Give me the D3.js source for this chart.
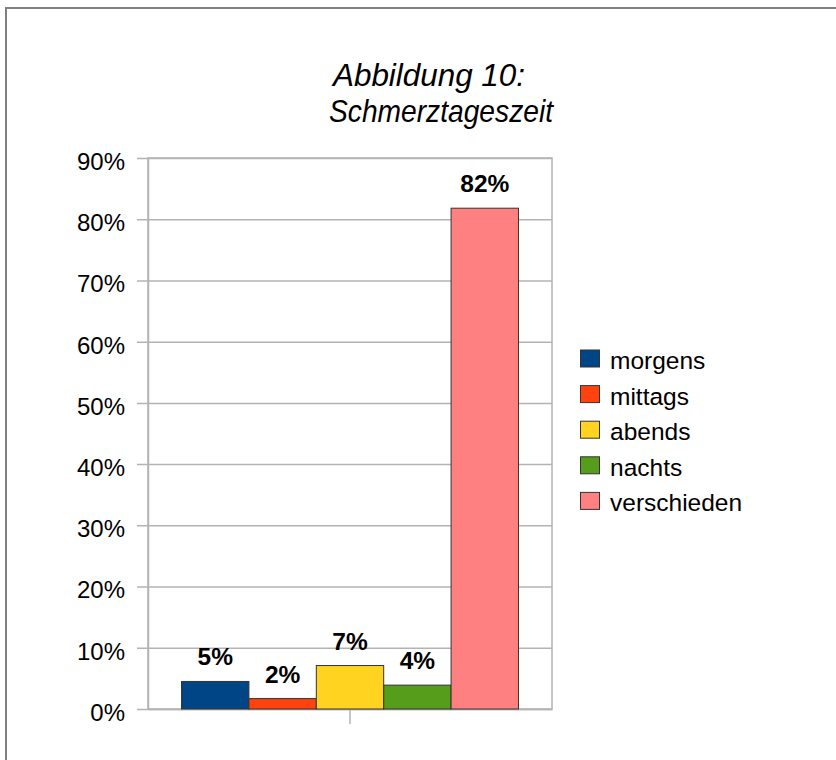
<!DOCTYPE html>
<html>
<head>
<meta charset="utf-8">
<script src="https://cdn.jsdelivr.net/npm/d3@7"></script>
<style>
  html, body { margin: 0; padding: 0; background: #fff; }
  svg { display: block; font-family: "Liberation Sans", Arial, sans-serif; }
</style>
</head>
<body>
<svg id="chart" width="836" height="760"></svg>
<script>
// Abbildung 10 — Schmerztageszeit, one group of five bars
const series = ['morgens', 'mittags', 'abends', 'nachts', 'verschieden'];
const values = [0.045, 0.017, 0.071, 0.039, 0.818];
const valueLabels = ['5%', '2%', '7%', '4%', '82%'];
const colors = ['#004586', '#ff420e', '#ffd320', '#579d1c', '#ff8080'];
const yTicks = [0, 0.1, 0.2, 0.3, 0.4, 0.5, 0.6, 0.7, 0.8, 0.9];
const titleLines = ['Abbildung 10:', 'Schmerztageszeit'];

const svg = d3.select('#chart');
const plot = { left: 148, right: 552, top: 158, bottom: 709 };

// outer frame (right/bottom edges fall outside the picture)
svg.append('rect')
  .attr('x', 6).attr('y', 8).attr('width', 900).attr('height', 900)
  .attr('fill', 'none').attr('stroke', '#808080').attr('stroke-width', 2);

// title font in the source is taller and narrower than Liberation, so squeeze it
const titleBox = [{ x: 333, w: 192 }, { x: 329, w: 224 }];
svg.append('g').selectAll('text')
  .data(titleLines)
  .join('text')
  .attr('x', (d, i) => titleBox[i].x)
  .attr('y', (d, i) => 86 + i * 36)
  .attr('textLength', (d, i) => titleBox[i].w)
  .attr('lengthAdjust', 'spacingAndGlyphs')
  .attr('font-size', 32)
  .attr('font-style', 'italic')
  .attr('fill', '#000')
  .text(d => d);

const y = d3.scaleLinear().domain([0, 0.9]).range([plot.bottom, plot.top]);
const x0 = d3.scaleBand().domain(['']).range([plot.left, plot.right])
  .paddingInner(0.166).paddingOuter(0.083);
const x1 = d3.scaleBand().domain(series).range([0, x0.bandwidth()]);

// plot wall border
svg.append('rect')
  .attr('x', plot.left).attr('y', plot.top)
  .attr('width', plot.right - plot.left).attr('height', plot.bottom - plot.top)
  .attr('fill', 'none').attr('stroke', '#b3b3b3').attr('stroke-width', 1.5);

// y axis with gridlines
const yAxis = svg.append('g')
  .attr('transform', `translate(${plot.left},0)`)
  .call(d3.axisLeft(y).tickValues(yTicks).tickFormat(d3.format('.0%'))
    .tickSizeInner(-(plot.right - plot.left)).tickSizeOuter(0).tickPadding(0));
yAxis.select('.domain').attr('stroke', '#b3b3b3').attr('stroke-width', 1.5);
yAxis.selectAll('.tick line').attr('stroke', '#b3b3b3').attr('stroke-width', 1.5)
  .attr('x1', -11);
yAxis.selectAll('.tick text')
  .attr('x', -23).attr('y', 3).attr('dy', '0.35em')
  .attr('font-size', 24).attr('fill', '#000')
  .attr('font-family', '"Liberation Sans", Arial, sans-serif');

// x axis: single category, tick below
const xAxis = svg.append('g')
  .attr('transform', `translate(0,${plot.bottom})`)
  .call(d3.axisBottom(x0).tickSizeInner(15).tickSizeOuter(0).tickFormat(''));
xAxis.select('.domain').attr('stroke', '#b3b3b3').attr('stroke-width', 1.5);
xAxis.selectAll('.tick line').attr('stroke', '#b3b3b3').attr('stroke-width', 1.5);

const rows = series.map((s, i) => ({ s, v: values[i], label: valueLabels[i], c: colors[i] }));
const g = svg.append('g').attr('transform', `translate(${x0('')},0)`);

g.selectAll('rect')
  .data(rows)
  .join('rect')
  .attr('x', d => x1(d.s))
  .attr('y', d => y(d.v))
  .attr('width', x1.bandwidth())
  .attr('height', d => y(0) - y(d.v))
  .attr('fill', d => d.c)
  .attr('stroke', '#333')
  .attr('stroke-width', 1);

g.selectAll('text')
  .data(rows)
  .join('text')
  .attr('x', d => x1(d.s) + x1.bandwidth() / 2)
  .attr('y', d => y(d.v) - 16)
  .attr('text-anchor', 'middle')
  .attr('font-size', 24.5)
  .attr('font-weight', 'bold')
  .attr('fill', '#000')
  .text(d => d.label);

// legend
const legend = svg.append('g').attr('transform', 'translate(580.5,350)');
const item = legend.selectAll('g')
  .data(rows)
  .join('g')
  .attr('transform', (d, i) => `translate(0,${i * 35.6})`);
item.append('rect')
  .attr('width', 19).attr('height', 17)
  .attr('fill', d => d.c).attr('stroke', '#333').attr('stroke-width', 1);
item.append('text')
  .attr('x', 29.5).attr('y', 19)
  .attr('font-size', 24.5)
  .attr('fill', '#000')
  .text(d => d.s);
</script>
</body>
</html>
